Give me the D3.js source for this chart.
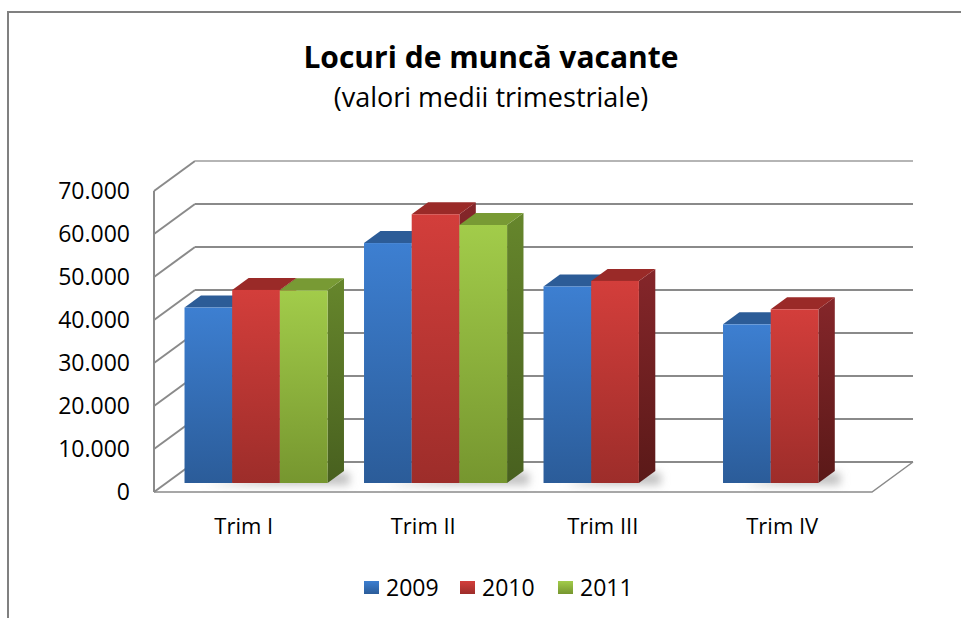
<!DOCTYPE html>
<html>
<head>
<meta charset="utf-8">
<script src="https://cdn.jsdelivr.net/npm/d3@7"></script>
<style>
  html, body { margin: 0; padding: 0; background: #fff; }
  svg { display: block; font-family: 'Open Sans', sans-serif; }
</style>
</head>
<body>
<div id="chart"></div>
<script>
// date
const categories = ['Trim I', 'Trim II', 'Trim III', 'Trim IV']
const series = ['2009', '2010', '2011']
const values2009 = [40800, 55800, 45700, 36900]
const values2010 = [44900, 62500, 47000, 40400]
const values2011 = [44800, 60000, null, null]
const yTicks = [0, 10000, 20000, 30000, 40000, 50000, 60000, 70000]

const width = 961
const height = 618

// culori: [sus, jos, capac, lateral sus, lateral jos]
const colors = {
  '2009': ['#3d7fd1', '#2b5c99', '#2c5c97', '#25528c', '#1b3d68'],
  '2010': ['#d33e3b', '#9d2d2a', '#9a2a28', '#85262a', '#5a1918'],
  '2011': ['#a2cc4a', '#76962f', '#789a34', '#66862c', '#48601f']
}

const rows = series.map((s, i) => ({
  name: s,
  values: [values2009, values2010, values2011][i]
}))

const svg = d3.select('#chart')
  .append('svg')
  .attr('width', width)
  .attr('height', height)

const defs = svg.append('defs')

series.forEach(s => {
  const c = colors[s]
  const gf = defs.append('linearGradient').attr('id', `front-${s}`)
    .attr('x1', 0).attr('y1', 0).attr('x2', 0).attr('y2', 1)
  gf.append('stop').attr('offset', '0%').attr('stop-color', c[0])
  gf.append('stop').attr('offset', '100%').attr('stop-color', c[1])
  const gs = defs.append('linearGradient').attr('id', `side-${s}`)
    .attr('x1', 0).attr('y1', 0).attr('x2', 0).attr('y2', 1)
  gs.append('stop').attr('offset', '0%').attr('stop-color', c[3])
  gs.append('stop').attr('offset', '100%').attr('stop-color', c[4])
})

defs.append('filter').attr('id', 'blur')
  .attr('x', '-50%').attr('y', '-50%').attr('width', '200%').attr('height', '200%')
  .append('feGaussianBlur').attr('stdDeviation', 4)

// chenarul graficului (taiat in dreapta si jos)
svg.append('path')
  .attr('d', 'M8,620 L8,12 L965,12')
  .attr('fill', 'none')
  .attr('stroke', '#808080')
  .attr('stroke-width', 2)

// titlu
svg.append('text')
  .attr('x', 491).attr('y', 68)
  .attr('text-anchor', 'middle')
  .attr('font-size', 30)
  .attr('font-weight', 'bold')
  .attr('fill', '#000')
  .text('Locuri de muncă vacante')

svg.append('text')
  .attr('x', 491).attr('y', 107)
  .attr('text-anchor', 'middle')
  .attr('font-size', 27)
  .attr('fill', '#000')
  .text('(valori medii trimestriale)')

// geometrie 3D
const frontLeft = 154
const frontRight = 872
const floorY = 492
const depthX = 41
const depthY = 30
const barD0 = 0.3
const barD1 = 0.7

const y = d3.scaleLinear().domain([0, 70000]).range([0, 301])

const x0 = d3.scaleBand()
  .domain(categories)
  .range([frontLeft, frontRight])
  .paddingInner(0.203)
  .paddingOuter(0.1015)

const x1 = d3.scaleBand()
  .domain(series)
  .range([0, x0.bandwidth()])

const locale = d3.formatLocale({ decimal: ',', thousands: '.', grouping: [3], currency: ['', ''] })
const fmt = locale.format(',')

const grid = svg.append('g')

// peretele lateral (diagonale) si liniile din spate
yTicks.forEach(t => {
  const yf = floorY - y(t)
  grid.append('line')
    .attr('x1', frontLeft).attr('y1', yf)
    .attr('x2', frontLeft + depthX).attr('y2', yf - depthY)
    .attr('stroke', '#8a8a8a').attr('stroke-width', 2)
  grid.append('line')
    .attr('x1', frontLeft + depthX).attr('y1', yf - depthY)
    .attr('x2', frontRight + depthX).attr('y2', yf - depthY)
    .attr('stroke', t === 70000 ? '#b5b5b5' : '#8a8a8a')
    .attr('stroke-width', 2)
})

// podea
grid.append('path')
  .attr('d', `M${frontLeft},${floorY} L${frontRight},${floorY} L${frontRight + depthX},${floorY - depthY}`)
  .attr('fill', 'none')
  .attr('stroke', '#8a8a8a')
  .attr('stroke-width', 1.5)

// axa verticala din fata
grid.append('line')
  .attr('x1', frontLeft).attr('y1', floorY)
  .attr('x2', frontLeft).attr('y2', floorY - y(70000))
  .attr('stroke', '#8a8a8a').attr('stroke-width', 2)

// etichete axa Y
svg.append('g')
  .selectAll('text')
  .data(yTicks)
  .enter()
  .append('text')
  .attr('x', 130)
  .attr('y', d => floorY - y(d))
  .attr('dy', '0.35em')
  .attr('text-anchor', 'end')
  .attr('font-size', 23)
  .attr('fill', '#000')
  .text(d => fmt(d))

// umbre pe podea
const shadows = svg.append('g').attr('filter', 'url(#blur)')
categories.forEach((c, ci) => {
  const n = rows.filter(r => r.values[ci] != null).length
  const xs = x0(c) + depthX * barD0
  const xe = xs + x1.bandwidth() * n
  const yb = floorY - depthY * barD0
  shadows.append('path')
    .attr('d', `M${xs + 20},${yb + 2} L${xe + 22},${yb + 2} L${xe + 22},${yb - 10} L${xe},${yb - 12} Z`)
    .attr('fill', '#9a9a9a')
    .attr('opacity', 0.6)
})

// bare 3D
const bars = []
categories.forEach((c, ci) => {
  rows.forEach(r => {
    if (r.values[ci] != null) bars.push({ cat: c, s: r.name, v: r.values[ci] })
  })
})

const dx = depthX * (barD1 - barD0)
const dy = depthY * (barD1 - barD0)

const barG = svg.append('g')
  .selectAll('g')
  .data(bars)
  .enter()
  .append('g')

barG.each(function (d) {
  const g = d3.select(this)
  const xl = x0(d.cat) + x1(d.s) + depthX * barD0
  const w = x1.bandwidth()
  const yb = floorY - depthY * barD0
  const yt = yb - y(d.v)
  g.append('path')
    .attr('d', `M${xl + w},${yt} L${xl + w + dx},${yt - dy} L${xl + w + dx},${yb - dy} L${xl + w},${yb} Z`)
    .attr('fill', `url(#side-${d.s})`)
  g.append('path')
    .attr('d', `M${xl},${yt} L${xl + w},${yt} L${xl + w + dx},${yt - dy} L${xl + dx},${yt - dy} Z`)
    .attr('fill', colors[d.s][2])
  g.append('rect')
    .attr('x', xl).attr('y', yt)
    .attr('width', w).attr('height', y(d.v))
    .attr('fill', `url(#front-${d.s})`)
})

// etichete categorii
svg.append('g')
  .selectAll('text')
  .data(categories)
  .enter()
  .append('text')
  .attr('x', d => x0(d) + x0.bandwidth() / 2)
  .attr('y', 534)
  .attr('text-anchor', 'middle')
  .attr('font-size', 22)
  .attr('fill', '#000')
  .text(d => d)

// legenda
const legendX = [364, 460, 558]
const legend = svg.append('g')
  .selectAll('g')
  .data(series)
  .enter()
  .append('g')
  .attr('transform', (d, i) => `translate(${legendX[i]},581)`)

legend.append('rect')
  .attr('width', 15).attr('height', 13)
  .attr('fill', d => `url(#front-${d})`)

legend.append('text')
  .attr('x', 22).attr('y', 6.5)
  .attr('dy', '0.36em')
  .attr('font-size', 23)
  .attr('fill', '#000')
  .text(d => d)
</script>
</body>
</html>
